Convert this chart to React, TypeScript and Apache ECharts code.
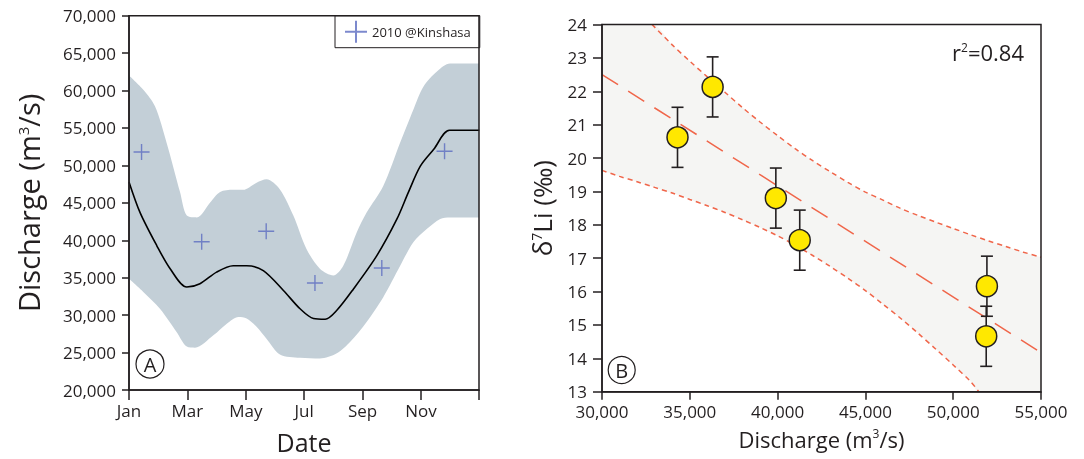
import React, { useEffect, useRef } from "react";
import * as echarts from "echarts";

// ---------- Panel A data (x = month index, 0 = Jan 1) ----------
const monthTickLabels = ["Jan", "Mar", "May", "Jul", "Sep", "Nov"];
const meanCurve: [number, number][] = [
  [0, 47800], [0.38, 43700], [0.95, 39300], [1.41, 36200], [1.98, 33750], [2.43, 34200],
  [3.0, 35750], [3.57, 36600], [4.03, 36600], [4.6, 35950], [5.29, 33300], [5.86, 30850],
  [6.32, 29550], [6.72, 29450], [7.12, 30650], [7.69, 33500], [8.49, 37950], [9.18, 42850],
  [9.57, 46400], [9.98, 49900], [10.44, 52150], [10.98, 54700], [12, 54700],
];
const bandUpperA: [number, number][] = [
  [0, 62000], [0.49, 60100], [0.89, 57900], [1.29, 53000], [1.75, 46400], [1.98, 43300],
  [2.32, 43050], [2.78, 45050], [3.12, 46450], [3.57, 46750], [3.91, 46750], [4.37, 47700],
  [4.71, 48150], [5.17, 46800], [5.63, 43300], [6.08, 38850], [6.54, 36200], [7.0, 35300],
  [7.34, 36600], [7.8, 41050], [8.14, 43700], [8.71, 47250], [9.29, 53050], [9.74, 57450],
  [10.09, 60550], [10.55, 62550], [11.0, 63600], [12, 63600],
];
const bandLowerA: [number, number][] = [
  [0, 34850], [0.49, 33100], [1.06, 30850], [1.63, 27750], [1.98, 25800], [2.26, 25650],
  [2.89, 27300], [3.35, 28850], [3.75, 29750], [4.03, 29550], [4.37, 28450], [4.71, 26850],
  [5.17, 24750], [5.86, 24300], [6.54, 24200], [7.12, 24900], [7.58, 26450], [8.14, 29100],
  [8.71, 32400], [9.29, 36600], [9.74, 39750], [10.2, 41500], [10.66, 42850], [11.0, 43050],
  [12, 43050],
];
const kinshasa2010: [number, number][] = [
  [0.43, 51800], [2.49, 39800], [4.7, 41200], [6.37, 34300], [8.66, 36300], [10.81, 51900],
];

// ---------- Panel B data ----------
const liPoints: [number, number][] = [
  [34300, 20.62], [36300, 22.13], [39900, 18.8], [41260, 17.54], [51920, 16.16], [51880, 14.66],
];
const liErrors = [0.9, 0.9, 0.9, 0.9, 0.9, 0.9];
const regression: [number, number][] = [[30000, 22.5], [55000, 14.17]];
const confUpper: [number, number][] = [
  [32850, 24.0], [34000, 23.39], [35000, 22.9], [36000, 22.43], [37000, 21.97], [38000, 21.51],
  [39000, 21.08], [40000, 20.67], [41000, 20.28], [42000, 19.92], [43000, 19.59], [44000, 19.27],
  [45000, 18.98], [46000, 18.74], [47000, 18.49], [48000, 18.28], [49000, 18.08], [50000, 17.89],
  [51000, 17.7], [52000, 17.52], [53000, 17.35], [54000, 17.18], [55000, 17.03],
];
const confLower: [number, number][] = [
  [30000, 19.63], [31000, 19.45], [32000, 19.29], [33000, 19.12], [34000, 18.95], [35000, 18.76],
  [36000, 18.57], [37000, 18.37], [38000, 18.15], [39000, 17.92], [40000, 17.67], [41000, 17.39],
  [42000, 17.08], [43000, 16.75], [44000, 16.4], [45000, 16.03], [46000, 15.62], [47000, 15.2],
  [48000, 14.75], [49000, 14.28], [50000, 13.8], [51000, 13.3], [51460, 13.0],
];
const rSquared = "0.84";

const FONT = "'Open Sans', 'Noto Sans', sans-serif";
const INK = "#231F20";
const ORANGE = "#F0664A";

export default function App() {
  const ref = useRef<HTMLDivElement>(null);
  useEffect(() => {
    if (!ref.current) return;
    const chart = echarts.init(ref.current, null, { renderer: "svg" });
    const plusPath = "path://M0,10L20,10M10,0L10,20";
    const axisCommon = {
      axisLine: { show: true, lineStyle: { color: INK, width: 1.5 } },
      axisTick: { show: true, inside: false, lineStyle: { color: INK, width: 1.5 } },
      splitLine: { show: false },
      axisLabel: { color: INK, fontFamily: FONT, fontSize: 17 },
      z: 10,
    };
    const upperFillB: [number, number][] = [[30000, 24], ...confUpper];
    const lowerFillB: [number, number][] = [...confLower, [55000, 13]];
    const errData = liPoints.map((p, i) => [p[0], p[1], liErrors[i]]);

    chart.setOption({
      animation: false,
      textStyle: { fontFamily: FONT },
      grid: [
        { left: 129, top: 15.7, width: 350, height: 376, show: true, borderColor: INK, borderWidth: 1.5, backgroundColor: "transparent", z: 10 },
        { left: 602, top: 24.5, width: 439, height: 367.2, show: true, borderColor: INK, borderWidth: 1.5, backgroundColor: "transparent", z: 10 },
      ],
      legend: {
        data: ["2010 @Kinshasa"],
        left: 335,
        top: 15.7,
        padding: [4, 9, 4, 9],
        itemWidth: 22,
        itemHeight: 22,
        itemGap: 5,
        backgroundColor: "#fff",
        borderColor: INK,
        borderWidth: 1,
        textStyle: { fontFamily: FONT, fontSize: 13, color: INK },
        icon: plusPath,
      },
      xAxis: [
        {
          ...axisCommon,
          gridIndex: 0,
          type: "value",
          min: 0,
          max: 11.99,
          interval: 2,
          axisTick: { ...axisCommon.axisTick, length: 10 },
          axisLabel: { ...axisCommon.axisLabel, margin: 12, formatter: (v: number) => monthTickLabels[Math.round(v / 2)] ?? "" },
          name: "Date",
          nameLocation: "middle",
          nameGap: 39,
          nameTextStyle: { fontFamily: FONT, fontSize: 25, color: INK },
        },
        {
          ...axisCommon,
          gridIndex: 1,
          type: "value",
          min: 30000,
          max: 55000,
          interval: 5000,
          axisTick: { ...axisCommon.axisTick, length: 8 },
          axisLabel: { ...axisCommon.axisLabel, margin: 11, formatter: (v: number) => v.toLocaleString("en-US") },
          name: "Discharge (m{sup|3}/s)",
          nameLocation: "middle",
          nameGap: 36,
          nameTextStyle: { fontFamily: FONT, fontSize: 22, color: INK, rich: { sup: { fontSize: 12, verticalAlign: "top", fontFamily: FONT, color: INK, padding: [0, 0, 10, 0] } } },
        },
      ],
      yAxis: [
        {
          ...axisCommon,
          gridIndex: 0,
          type: "value",
          min: 20000,
          max: 70000,
          interval: 5000,
          axisTick: { ...axisCommon.axisTick, length: 7 },
          axisLabel: { ...axisCommon.axisLabel, margin: 13, formatter: (v: number) => v.toLocaleString("en-US") },
          name: "Discharge (m{sup|3}/s)",
          nameLocation: "middle",
          nameRotate: 90,
          nameGap: 86,
          nameTextStyle: { fontFamily: FONT, fontSize: 29, color: INK, rich: { sup: { fontSize: 15, fontFamily: FONT, color: INK, padding: [0, 0, 12, 0] } } },
        },
        {
          ...axisCommon,
          gridIndex: 1,
          type: "value",
          min: 13,
          max: 24,
          interval: 1,
          axisTick: { ...axisCommon.axisTick, length: 9 },
          axisLabel: { ...axisCommon.axisLabel, margin: 15 },
          name: "δ{sup|7}Li (‰)",
          nameLocation: "middle",
          nameRotate: 90,
          nameGap: 47,
          nameTextStyle: { fontFamily: FONT, fontSize: 26, color: INK, rich: { sup: { fontSize: 14, fontFamily: FONT, color: INK, padding: [0, 0, 12, 0] } } },
        },
      ],
      series: [
        // Panel A band
        {
          type: "line", xAxisIndex: 0, yAxisIndex: 0, data: bandUpperA, smooth: 0.3, showSymbol: false,
          lineStyle: { width: 0 }, areaStyle: { color: "#C3CFD7", opacity: 1, origin: "start" }, silent: true, z: 1,
        },
        {
          type: "line", xAxisIndex: 0, yAxisIndex: 0, data: bandLowerA, smooth: 0.3, showSymbol: false,
          lineStyle: { width: 0 }, areaStyle: { color: "#ffffff", opacity: 1, origin: "start" }, silent: true, z: 2,
        },
        {
          type: "line", xAxisIndex: 0, yAxisIndex: 0, data: meanCurve, smooth: 0.3, showSymbol: false,
          lineStyle: { color: "#000", width: 1.6 }, z: 3,
        },
        {
          name: "2010 @Kinshasa", type: "scatter", xAxisIndex: 0, yAxisIndex: 0, data: kinshasa2010,
          symbol: plusPath, symbolSize: 16,
          itemStyle: { color: "rgba(0,0,0,0)", borderColor: "#5B6CC0", borderWidth: 1.4 }, z: 4,
        },
        // Panel B confidence band
        {
          type: "line", xAxisIndex: 1, yAxisIndex: 1, data: upperFillB, smooth: 0.3, showSymbol: false,
          lineStyle: { width: 0 }, areaStyle: { color: "#F5F5F3", opacity: 1, origin: "start" }, silent: true, z: 1,
        },
        {
          type: "line", xAxisIndex: 1, yAxisIndex: 1, data: lowerFillB, smooth: 0.3, showSymbol: false,
          lineStyle: { width: 0 }, areaStyle: { color: "#ffffff", opacity: 1, origin: "start" }, silent: true, z: 2,
        },
        {
          type: "line", xAxisIndex: 1, yAxisIndex: 1, data: confUpper, smooth: 0.3, showSymbol: false,
          lineStyle: { color: ORANGE, width: 1.5, type: [5, 4] }, z: 3,
        },
        {
          type: "line", xAxisIndex: 1, yAxisIndex: 1, data: confLower, smooth: 0.3, showSymbol: false,
          lineStyle: { color: ORANGE, width: 1.5, type: [5, 4] }, z: 3,
        },
        {
          type: "line", xAxisIndex: 1, yAxisIndex: 1, data: regression, showSymbol: false,
          lineStyle: { color: ORANGE, width: 1.5, type: [19, 12] }, z: 3,
        },
        {
          type: "custom", xAxisIndex: 1, yAxisIndex: 1, data: errData, z: 4,
          renderItem: (params: any, api: any) => {
            const x = api.value(0), y = api.value(1), e = api.value(2);
            const top = api.coord([x, y + e]);
            const bot = api.coord([x, y - e]);
            const st = { stroke: INK, lineWidth: 1.6 };
            const hw = 6;
            return {
              type: "group",
              children: [
                { type: "line", shape: { x1: top[0], y1: top[1], x2: bot[0], y2: bot[1] }, style: st },
                { type: "line", shape: { x1: top[0] - hw, y1: top[1], x2: top[0] + hw, y2: top[1] }, style: st },
                { type: "line", shape: { x1: bot[0] - hw, y1: bot[1], x2: bot[0] + hw, y2: bot[1] }, style: st },
              ],
            };
          },
        },
        {
          type: "scatter", xAxisIndex: 1, yAxisIndex: 1, data: liPoints, symbol: "circle", symbolSize: 21,
          itemStyle: { color: "#FFE800", borderColor: INK, borderWidth: 1.5, opacity: 1 }, z: 5,
        },
      ],
      graphic: [
        { type: "circle", shape: { cx: 150, cy: 364, r: 14 }, style: { fill: "none", stroke: INK, lineWidth: 1.2 }, z: 20 },
        { type: "text", x: 150, y: 364, style: { text: "A", fontFamily: FONT, fontSize: 20, fill: INK, align: "center", verticalAlign: "middle" }, z: 20 },
        { type: "circle", shape: { cx: 621.7, cy: 370, r: 13.5 }, style: { fill: "none", stroke: INK, lineWidth: 1.2 }, z: 20 },
        { type: "text", x: 621.7, y: 370, style: { text: "B", fontFamily: FONT, fontSize: 20, fill: INK, align: "center", verticalAlign: "middle" }, z: 20 },
        {
          type: "text", x: 1024, y: 52, z: 20,
          style: {
            text: "r{sup|2}=" + rSquared, align: "right", verticalAlign: "middle",
            fontFamily: FONT, fontSize: 22, fill: INK,
            rich: { sup: { fontSize: 12, fontFamily: FONT, fill: INK, padding: [0, 0, 10, 0] } },
          },
        },
      ],
    });
    return () => chart.dispose();
  }, []);
  return <div ref={ref} style={{ position: "fixed", left: 0, top: 0, width: 1084, height: 459 }} />;
}
